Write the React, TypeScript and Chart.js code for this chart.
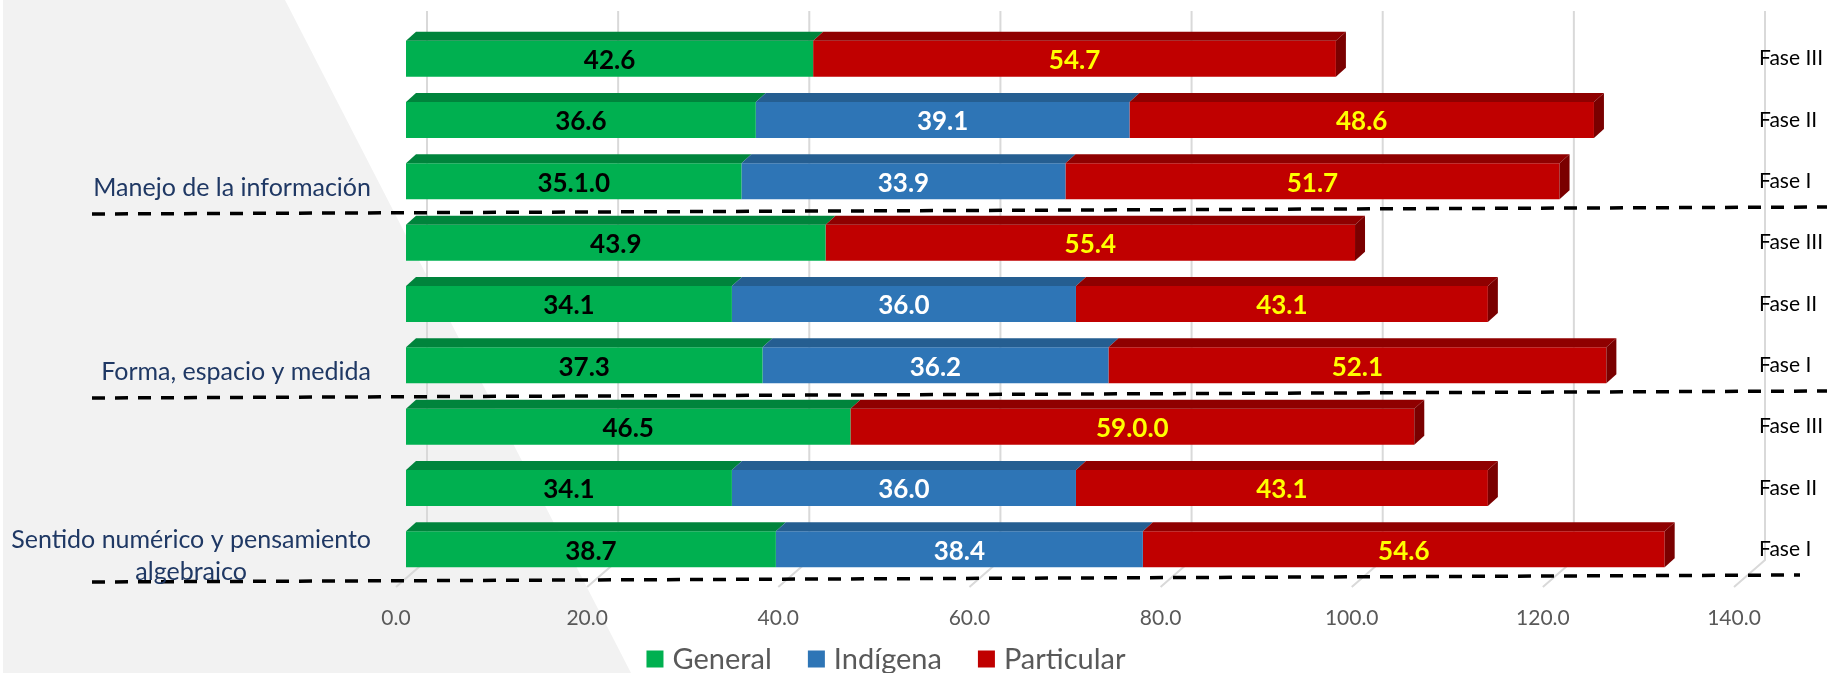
import React, { useEffect, useRef } from "react";
import { Chart, registerables } from "chart.js";

Chart.register(...registerables);

// ---------- data ----------
const groups = [
  "Manejo de la información",
  "Forma, espacio y medida",
  "Sentido numérico y pensamiento algebraico",
];
const phases = ["Fase III", "Fase II", "Fase I"];
const seriesNames = ["General", "Indígena", "Particular"];

const generalValues = [42.6, 36.6, 35.1, 43.9, 34.1, 37.3, 46.5, 34.1, 38.7];
const indigenaValues = [null, 39.1, 33.9, null, 36.0, 36.2, null, 36.0, 38.4];
const particularValues = [54.7, 48.6, 51.7, 55.4, 43.1, 52.1, 59.0, 43.1, 54.6];

const generalLabels = ["42.6", "36.6", "35.1.0", "43.9", "34.1", "37.3", "46.5", "34.1", "38.7"];
const indigenaLabels = ["", "39.1", "33.9", "", "36.0", "36.2", "", "36.0", "38.4"];
const particularLabels = ["54.7", "48.6", "51.7", "55.4", "43.1", "52.1", "59.0.0", "43.1", "54.6"];

const xTicks = [0, 20, 40, 60, 80, 100, 120, 140];

// ---------- styles ----------
const FONT = "Lato, 'Open Sans', sans-serif";
const frontColors = ["#00B050", "#2E75B6", "#C00000"];
const topColors = ["#00843C", "#255E91", "#8F0000"];
const sideColors = ["#006B30", "#1F4E79", "#7A0000"];
const labelColors = ["#000000", "#FFFFFF", "#FFFF00"];
const DEPTH_X = 10;
const DEPTH_Y = 9;

const categories = groups.flatMap((g) => phases.map((p) => `${g} - ${p}`));
const valueLists = [generalValues, indigenaValues, particularValues];
const labelLists = [generalLabels, indigenaLabels, particularLabels];

function wrapText(ctx: CanvasRenderingContext2D, text: string, maxW: number): string[] {
  const words = text.split(" ");
  const lines: string[] = [];
  let cur = "";
  for (const w of words) {
    const t = cur ? cur + " " + w : w;
    if (ctx.measureText(t).width > maxW && cur) {
      lines.push(cur);
      cur = w;
    } else cur = t;
  }
  if (cur) lines.push(cur);
  return lines;
}

const excel3dPlugin = {
  id: "excel3d",
  beforeDraw(chart: any) {
    const ctx: CanvasRenderingContext2D = chart.ctx;
    const { height } = chart;
    const area = chart.chartArea;
    const xs = chart.scales.x;
    ctx.save();
    // background shape
    ctx.fillStyle = "#F2F2F2";
    ctx.beginPath();
    ctx.moveTo(3, 0);
    ctx.lineTo(285, 0);
    ctx.lineTo(631, height);
    ctx.lineTo(3, height);
    ctx.closePath();
    ctx.fill();

    // back-wall gridlines + floor lines
    ctx.strokeStyle = "#D9D9D9";
    ctx.lineWidth = 2;
    for (const v of xTicks) {
      const px = xs.getPixelForValue(v);
      ctx.beginPath();
      ctx.moveTo(px + 21, area.top - 17);
      ctx.lineTo(px + 21, area.bottom - 20);
      ctx.lineTo(px - 10, area.bottom + 7);
      ctx.stroke();
    }
    // tick labels
    ctx.fillStyle = "#595959";
    ctx.font = `21px ${FONT}`;
    ctx.textAlign = "center";
    ctx.textBaseline = "middle";
    for (const v of xTicks) {
      const px = xs.getPixelForValue(v);
      ctx.fillText(v.toFixed(1), px - 10, area.bottom + 38);
    }
    ctx.restore();
  },
  afterDatasetsDraw(chart: any) {
    const ctx: CanvasRenderingContext2D = chart.ctx;
    ctx.save();
    const n = categories.length;
    // find last segment per category
    const lastDs: number[] = new Array(n).fill(-1);
    const lastX: number[] = new Array(n).fill(-Infinity);
    chart.data.datasets.forEach((ds: any, di: number) => {
      const meta = chart.getDatasetMeta(di);
      meta.data.forEach((el: any, j: number) => {
        if (ds.data[j] == null) return;
        const x = Math.max(el.x, el.base);
        if (x > lastX[j]) {
          lastX[j] = x;
          lastDs[j] = di;
        }
      });
    });
    chart.data.datasets.forEach((ds: any, di: number) => {
      const meta = chart.getDatasetMeta(di);
      meta.data.forEach((el: any, j: number) => {
        if (ds.data[j] == null) return;
        const x0 = Math.min(el.x, el.base);
        const x1 = Math.max(el.x, el.base);
        const top = el.y - el.height / 2;
        const bottom = el.y + el.height / 2;
        // top face
        ctx.fillStyle = topColors[di];
        ctx.beginPath();
        ctx.moveTo(x0, top);
        ctx.lineTo(x0 + DEPTH_X, top - DEPTH_Y);
        ctx.lineTo(x1 + DEPTH_X, top - DEPTH_Y);
        ctx.lineTo(x1, top);
        ctx.closePath();
        ctx.fill();
        if (lastDs[j] === di) {
          ctx.fillStyle = sideColors[di];
          ctx.beginPath();
          ctx.moveTo(x1, top);
          ctx.lineTo(x1 + DEPTH_X, top - DEPTH_Y);
          ctx.lineTo(x1 + DEPTH_X, bottom - DEPTH_Y);
          ctx.lineTo(x1, bottom);
          ctx.closePath();
          ctx.fill();
        }
      });
    });
    // data labels
    ctx.font = `bold 26px ${FONT}`;
    ctx.textAlign = "center";
    ctx.textBaseline = "middle";
    chart.data.datasets.forEach((ds: any, di: number) => {
      const meta = chart.getDatasetMeta(di);
      meta.data.forEach((el: any, j: number) => {
        if (ds.data[j] == null) return;
        const txt = labelLists[di][j];
        if (!txt) return;
        ctx.fillStyle = labelColors[di];
        ctx.fillText(txt, (el.x + el.base) / 2, el.y + 2);
      });
    });
    ctx.restore();
  },
  afterDraw(chart: any) {
    const ctx: CanvasRenderingContext2D = chart.ctx;
    const ys = chart.scales.y;
    const area = chart.chartArea;
    const pitch = ys.getPixelForValue(1) - ys.getPixelForValue(0);
    ctx.save();

    // dashed group separators
    ctx.strokeStyle = "#000000";
    ctx.lineWidth = 3.5;
    ctx.setLineDash([13, 10]);
    groups.forEach((_, gi) => {
      const lastIdx = gi * phases.length + phases.length - 1;
      const b = ys.getPixelForValue(lastIdx) + pitch / 2;
      const xEnd = gi === groups.length - 1 ? 1800 : chart.width;
      ctx.beginPath();
      ctx.moveTo(92, b + 2);
      ctx.lineTo(xEnd, b - 5);
      ctx.stroke();
    });
    ctx.setLineDash([]);

    // group labels (left)
    ctx.font = `25px ${FONT}`;
    ctx.fillStyle = "#1F3864";
    ctx.textBaseline = "middle";
    ctx.textAlign = "center";
    const rightEdge = 371;
    groups.forEach((g, gi) => {
      const lastIdx = gi * phases.length + phases.length - 1;
      const cy = ys.getPixelForValue(lastIdx) + 7;
      const lines = wrapText(ctx, g, 380);
      const maxW = Math.max(...lines.map((l) => ctx.measureText(l).width));
      const cx = rightEdge - maxW / 2;
      const lh = 32;
      lines.forEach((l, li) => {
        ctx.fillText(l, cx, cy + (li - (lines.length - 1) / 2) * lh);
      });
    });

    // phase labels (right)
    ctx.font = `21px ${FONT}`;
    ctx.fillStyle = "#000000";
    ctx.textAlign = "left";
    categories.forEach((_, i) => {
      const ph = phases[i % phases.length];
      ctx.fillText(ph, 1759, ys.getPixelForValue(i));
    });

    // legend
    ctx.font = `29px ${FONT}`;
    const sq = 17;
    const gapText = 9;
    const gapItem = 36;
    const widths = seriesNames.map((s) => sq + gapText + ctx.measureText(s).width);
    const total = widths.reduce((a, b) => a + b, 0) + gapItem * (seriesNames.length - 1);
    let lx = 886 - total / 2;
    const ly = area.bottom + 79;
    seriesNames.forEach((s, i) => {
      ctx.fillStyle = frontColors[i];
      ctx.fillRect(lx, ly - sq / 2, sq, sq);
      ctx.fillStyle = "#595959";
      ctx.textAlign = "left";
      ctx.fillText(s, lx + sq + gapText, ly + 1);
      lx += widths[i] + gapItem;
    });
    ctx.restore();
  },
};

export default function App() {
  const canvasRef = useRef<HTMLCanvasElement | null>(null);
  useEffect(() => {
    if (!canvasRef.current) return;
    const chart = new Chart(canvasRef.current, {
      type: "bar",
      data: {
        labels: categories,
        datasets: seriesNames.map((name, i) => ({
          label: name,
          data: valueLists[i] as any,
          backgroundColor: frontColors[i],
          borderWidth: 0,
          barPercentage: 0.588,
          categoryPercentage: 1,
        })),
      },
      options: {
        indexAxis: "y",
        responsive: false,
        animation: false,
        devicePixelRatio: 1,
        layout: { padding: { left: 406, right: 83, top: 28, bottom: 93 } },
        scales: {
          x: { type: "linear", min: 0, max: 140, stacked: true, display: false },
          y: { stacked: true, display: false },
        },
        plugins: {
          legend: { display: false },
          tooltip: { enabled: false },
        },
      },
      plugins: [excel3dPlugin],
    } as any);
    return () => chart.destroy();
  }, []);
  return (
    <div style={{ position: "absolute", left: 0, top: 0, width: 1827, height: 673, background: "#FFFFFF" }}>
      <canvas ref={canvasRef} width={1827} height={673} style={{ display: "block" }} />
    </div>
  );
}
